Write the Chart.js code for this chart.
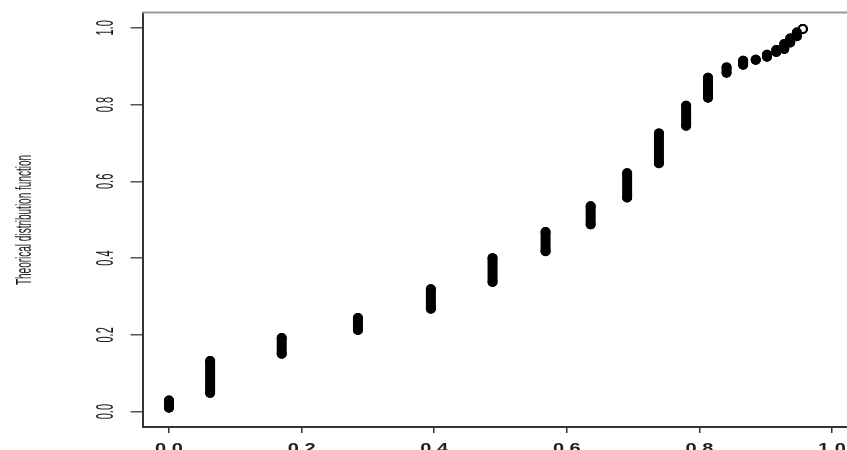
<!DOCTYPE html>
<html>
<head>
<meta charset="utf-8">
<script src="https://cdn.jsdelivr.net/npm/chart.js@4.4.1/dist/chart.umd.min.js"></script>
<style>
    body { margin: 0; overflow: hidden; background: #fff; }
    #wrap { width: 870px; height: 450px; }
</style>
</head>
<body>
<div id="wrap"><canvas id="pp"></canvas></div>
<script>
// empirical probabilities (x) and the range of theoretical values at each one
let xVals = [0.0, 0.062, 0.170, 0.285, 0.395, 0.488, 0.568, 0.636, 0.691, 0.739, 0.780,
             0.813, 0.841, 0.866, 0.885, 0.902, 0.916, 0.928, 0.937, 0.947, 0.956]
let yLow  = [0.010, 0.049, 0.151, 0.213, 0.268, 0.338, 0.418, 0.488, 0.558, 0.647, 0.745,
             0.818, 0.883, 0.904, 0.917, 0.925, 0.937, 0.945, 0.962, 0.978, 0.997]
let yHigh = [0.029, 0.132, 0.192, 0.244, 0.319, 0.400, 0.468, 0.535, 0.621, 0.725, 0.797,
             0.870, 0.897, 0.914, 0.917, 0.930, 0.942, 0.958, 0.972, 0.988, 0.997]

let tickVals = [0, 0.2, 0.4, 0.6, 0.8, 1.0]
let tickLabels = ['0.0', '0.2', '0.4', '0.6', '0.8', '1.0']
let yTitle = 'Theorical distribution function'

let datasets = []
for (var i = 0; i < xVals.length; i++) {
    datasets.push({
        data: [{x: xVals[i], y: yLow[i]}, {x: xVals[i], y: yHigh[i]}],
        showLine: true,
        borderColor: '#000',
        borderWidth: 10,
        borderCapStyle: 'round',
        pointRadius: 4,
        pointBorderWidth: 2,
        pointBorderColor: '#000',
        // last point keeps a small open centre like the reference
        pointBackgroundColor: i === xVals.length - 1 ? '#fff' : '#000'
    })
}

// R-style squashed text, top box line
let textPlugin = {
    id: 'rtext',
    afterDraw: function(chart) {
        let ctx = chart.ctx
        let area = chart.chartArea
        let xs = chart.scales.x
        let ys = chart.scales.y

        ctx.save()
        ctx.strokeStyle = '#9a9a9a'
        ctx.lineWidth = 2
        ctx.beginPath()
        ctx.moveTo(area.left, area.top)
        ctx.lineTo(area.right + 20, area.top)
        ctx.stroke()

        ctx.fillStyle = '#222'
        ctx.textAlign = 'center'
        ctx.textBaseline = 'alphabetic'
        ctx.font = 'bold 20px "Liberation Sans", Arial, sans-serif'
        for (var i = 0; i < tickVals.length; i++) {
            ctx.save()
            ctx.translate(xs.getPixelForValue(tickVals[i]), 452.5)
            ctx.scale(1.0, 0.75)
            ctx.fillText(tickLabels[i], 0, 0)
            ctx.restore()
        }

        ctx.fillStyle = '#1a1a1a'
        ctx.font = '24px "Liberation Sans", Arial, sans-serif'
        for (var j = 0; j < tickVals.length; j++) {
            ctx.save()
            ctx.translate(113, ys.getPixelForValue(tickVals[j]))
            ctx.rotate(-Math.PI / 2)
            ctx.scale(0.46, 1)
            ctx.fillText(tickLabels[j], 0, 0)
            ctx.restore()
        }

        ctx.font = '22px "Liberation Sans", Arial, sans-serif'
        ctx.save()
        ctx.translate(31, 220)
        ctx.rotate(-Math.PI / 2)
        ctx.scale(0.455, 1)
        ctx.fillText(yTitle, 0, 0)
        ctx.restore()
        ctx.restore()
    }
}

let chart = new Chart(document.getElementById('pp').getContext('2d'), {
    type: 'scatter',
    data: { datasets: datasets },
    plugins: [textPlugin],
    options: {
        responsive: true,
        maintainAspectRatio: false,
        animation: false,
        layout: { padding: { left: 142.5, top: 12.5, right: 11.5, bottom: 23 } },
        plugins: { legend: { display: false }, tooltip: { enabled: false } },
        scales: {
            x: {
                type: 'linear',
                min: -0.04,
                max: 1.04,
                afterBuildTicks: function(scale) { scale.ticks = tickVals.map(v => ({value: v})) },
                afterFit: function(scale) { scale.height = 0 },
                ticks: { display: false },
                grid: { drawOnChartArea: false, drawTicks: true, tickLength: 6, color: '#333', lineWidth: 1.5 },
                border: { color: '#333', width: 2 }
            },
            y: {
                type: 'linear',
                min: -0.04,
                max: 1.04,
                afterBuildTicks: function(scale) { scale.ticks = tickVals.map(v => ({value: v})) },
                afterFit: function(scale) { scale.width = 0 },
                ticks: { display: false },
                grid: { drawOnChartArea: false, drawTicks: true, tickLength: 12, color: '#555', lineWidth: 1.5 },
                border: { color: '#333', width: 2 }
            }
        }
    }
})
</script>
</body>
</html>
